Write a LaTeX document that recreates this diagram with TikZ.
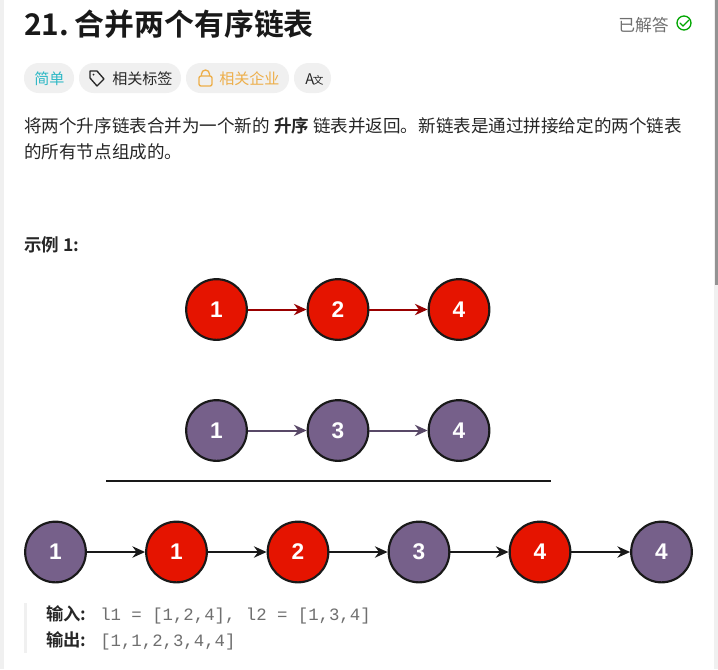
\documentclass[tikz,border=0pt]{standalone}
\usepackage{fontspec}
\setmainfont{Noto Sans CJK SC}[BoldFont={* Bold}]
\setsansfont{Liberation Sans}
\setmonofont{Liberation Mono}
\definecolor{nred}{HTML}{E51400}
\definecolor{npur}{HTML}{76608A}
\definecolor{chip}{HTML}{F0F0F0}
\definecolor{ink}{HTML}{262626}
\definecolor{lockc}{HTML}{EDAE49}
\definecolor{teal}{HTML}{2DB8C5}
\definecolor{soft}{HTML}{6F6F6F}
\tikzset{
 x=0.75pt,y=-0.75pt,
 txt/.style={inner sep=0pt,anchor=base west,text=ink},
 listnode/.style={circle,draw=black!90,line width=1.6pt,minimum size=45.5pt,inner sep=0pt,font=\sffamily\bfseries\fontsize{17}{17}\selectfont,text=white},
 rednode/.style={listnode,fill=nred},
 purnode/.style={listnode,fill=npur},
 linkb/.style={-{Stealth[length=9.5pt,width=8.5pt]},line width=1.5pt,black!90},
 linkr/.style={linkb,color=red!60!black},
 linkp/.style={linkb,color=npur!75!black},
 chipbox/.style={fill=chip,draw=none,rounded corners=11pt}
}
\usetikzlibrary{arrows.meta}
\begin{document}
\begin{tikzpicture}
\useasboundingbox (0,0) rectangle (718,669);
\fill[white] (0,0) rectangle (718,669);
\fill[chip] (0,0) rectangle (4,669);
\fill[chip] (714,0) rectangle (718,669);
\fill[gray!85] (715,0) rectangle (718,285);
% title
\node[txt,text=black!90] (title) at (24,35) {\fontsize{22.4}{22.4}\selectfont\bfseries 21.\kern-2.5pt{} 合并两个有序链表};
\node[txt,text=soft] (solved) at (618,31) {\fontsize{12.6}{12.6}\selectfont 已解答};
\draw[green!65!black,line width=1pt] (684,23) circle (7);
\draw[green!65!black,line width=1pt,line cap=round] (680,23) -- (683,26) -- (689,20);
% chips
\fill[chipbox] (24,63) rectangle (74,93);
\node[txt,text=teal] (c1) at (34,84) {\fontsize{11.3}{11.3}\selectfont 简单};
\fill[chipbox] (79,63) rectangle (181,93);
\draw[black!85,line width=1pt,line join=round] (90,71) -- (97,71) -- (104,79) -- (97,86) -- (90,78) -- cycle;
\fill[black!85] (93.5,74.5) circle (1);
\node[txt] (c2) at (112,84) {\fontsize{11.3}{11.3}\selectfont 相关标签};
\fill[chipbox] (186,63) rectangle (289,93);
\draw[lockc,line width=1pt,rounded corners=1.5pt] (199,76) rectangle (212,86);
\draw[lockc,line width=1pt] (201.5,76) -- (201.5,74) arc (180:360:4) -- (209.5,76);
\node[txt,text=lockc] (c3) at (219,84) {\fontsize{11.3}{11.3}\selectfont 相关企业};
\fill[chipbox] (294,63) rectangle (331,93);
\node[txt] (c4) at (305,84) {\fontsize{11}{11}\selectfont A\kern-1pt{\fontsize{8}{8}\selectfont 文}};
% description
\node[txt] (d1) at (24,132) {\fontsize{13.17}{13.17}\selectfont 将两个升序链表合并为一个新的 \textbf{升序} 链表并返回。新链表是通过拼接给定的两个链表};
\node[txt] (d2) at (24,158) {\fontsize{13.17}{13.17}\selectfont 的所有节点组成的。};
\node[txt] (ex) at (24,251) {\fontsize{13.17}{13.17}\selectfont\bfseries 示例 1:};
% list 1
\node[rednode] (a1) at (216.5,309.5) {1};
\node[rednode] (a2) at (338,309.5) {2};
\node[rednode] (a3) at (459,309.5) {4};
\draw[linkr] (a1) -- (a2);
\draw[linkr] (a2) -- (a3);
% list 2
\node[purnode] (b1) at (216.5,430.5) {1};
\node[purnode] (b2) at (338,430.5) {3};
\node[purnode] (b3) at (459,430.5) {4};
\draw[linkp] (b1) -- (b2);
\draw[linkp] (b2) -- (b3);
% rule
\coordinate (r1) at (106,481);
\coordinate (r2) at (551,481);
\draw[line width=1.5pt,black!90] (r1) -- (r2);
% merged
\node[purnode] (m1) at (55.5,552) {1};
\node[rednode] (m2) at (176.5,552) {1};
\node[rednode] (m3) at (298,552) {2};
\node[purnode] (m4) at (419,552) {3};
\node[rednode] (m5) at (540,552) {4};
\node[purnode] (m6) at (661.5,552) {4};
\foreach \p/\q in {m1/m2,m2/m3,m3/m4,m4/m5,m5/m6} \draw[linkb] (\p) -- (\q);
% example text
\fill[chip] (24,603) rectangle (27,653);
\node[txt] (in) at (46,620) {\fontsize{13}{13}\selectfont\bfseries 输入:};
\node[txt,text=soft] (inv) at (100,620) {\ttfamily\fontsize{13}{13}\selectfont l1 = [1,2,4], l2 = [1,3,4]};
\node[txt] (out) at (46,646) {\fontsize{13}{13}\selectfont\bfseries 输出:};
\node[txt,text=soft] (outv) at (100,646) {\ttfamily\fontsize{13}{13}\selectfont [1,1,2,3,4,4]};
\end{tikzpicture}
\end{document}
